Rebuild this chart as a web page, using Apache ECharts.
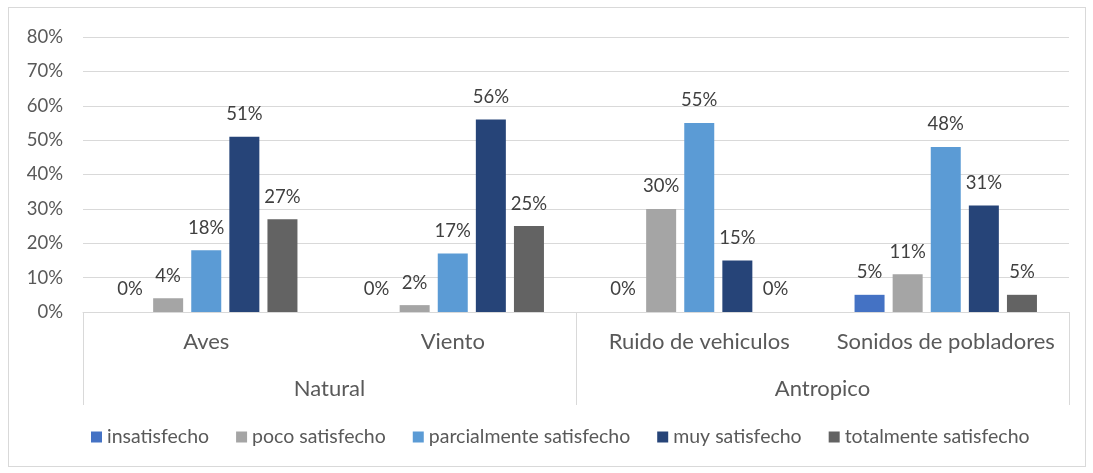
<!DOCTYPE html>
<html>
<head>
<meta charset="utf-8">
<script src="https://cdn.jsdelivr.net/npm/echarts@6/dist/echarts.min.js"></script>
<style>
  html, body { margin: 0; padding: 0; background: #fff; }
  #frame { position: absolute; left: 8px; top: 7px; width: 1076px; height: 458px; border: 1px solid #d9d9d9; }
  #chart { position: absolute; left: 0; top: 0; width: 1093px; height: 473px; }
</style>
</head>
<body>
<div id="frame"></div>
<div id="chart"></div>
<script>
// categories (inner level) and their groups (outer level)
const categories = ['Aves', 'Viento', 'Ruido de vehiculos', 'Sonidos de pobladores'];
const groups = ['Natural', 'Antropico'];

// values in percent, one array per series
const insatisfecho = [0, 0, 0, 5];
const pocoSatisfecho = [4, 2, 30, 11];
const parcialmenteSatisfecho = [18, 17, 55, 48];
const muySatisfecho = [51, 56, 15, 31];
const totalmenteSatisfecho = [27, 25, 0, 5];

const seriesDefs = [
    { name: 'insatisfecho', data: insatisfecho, color: '#4472C4' },
    { name: 'poco satisfecho', data: pocoSatisfecho, color: '#A5A5A5' },
    { name: 'parcialmente satisfecho', data: parcialmenteSatisfecho, color: '#5B9BD5' },
    { name: 'muy satisfecho', data: muySatisfecho, color: '#264478' },
    { name: 'totalmente satisfecho', data: totalmenteSatisfecho, color: '#636363' },
];

const FONT = 'Lato, "Open Sans", sans-serif';
const chart = echarts.init(document.getElementById('chart'));

chart.setOption({
    animation: false,
    textStyle: { fontFamily: FONT },
    grid: { left: 83, right: 24, top: 37, bottom: 161 },
    legend: {
        bottom: 21,
        left: 86,
        itemWidth: 11,
        itemHeight: 11,
        itemGap: 27,
        icon: 'rect',
        textStyle: { fontSize: 19.5, color: '#595959', fontFamily: FONT },
        data: seriesDefs.map(s => s.name),
    },
    xAxis: [
        {
            type: 'category',
            data: categories,
            axisLine: { show: true, lineStyle: { color: '#d9d9d9' } },
            axisTick: { show: false },
            axisLabel: { fontSize: 22, color: '#595959', margin: 19, interval: 0 },
        },
        {
            type: 'category',
            position: 'bottom',
            data: groups,
            axisLine: { show: false },
            axisTick: { show: true, length: 93, interval: 0, lineStyle: { color: '#d9d9d9' } },
            axisLabel: { fontSize: 22, color: '#595959', margin: 66, interval: 0 },
        },
    ],
    yAxis: {
        type: 'value',
        min: 0,
        max: 80,
        interval: 10,
        axisLine: { show: false },
        axisTick: { show: false },
        axisLabel: { formatter: '{value}%', fontSize: 18.5, color: '#595959', margin: 20 },
        splitLine: { lineStyle: { color: '#d9d9d9' } },
    },
    series: seriesDefs.map(s => ({
        type: 'bar',
        name: s.name,
        data: s.data,
        barWidth: 30,
        barGap: '27%',
        itemStyle: { color: s.color },
        label: {
            show: true,
            position: 'top',
            distance: 13,
            formatter: '{c}%',
            fontSize: 18.5,
            color: '#404040',
        },
    })),
});
</script>
</body>
</html>
